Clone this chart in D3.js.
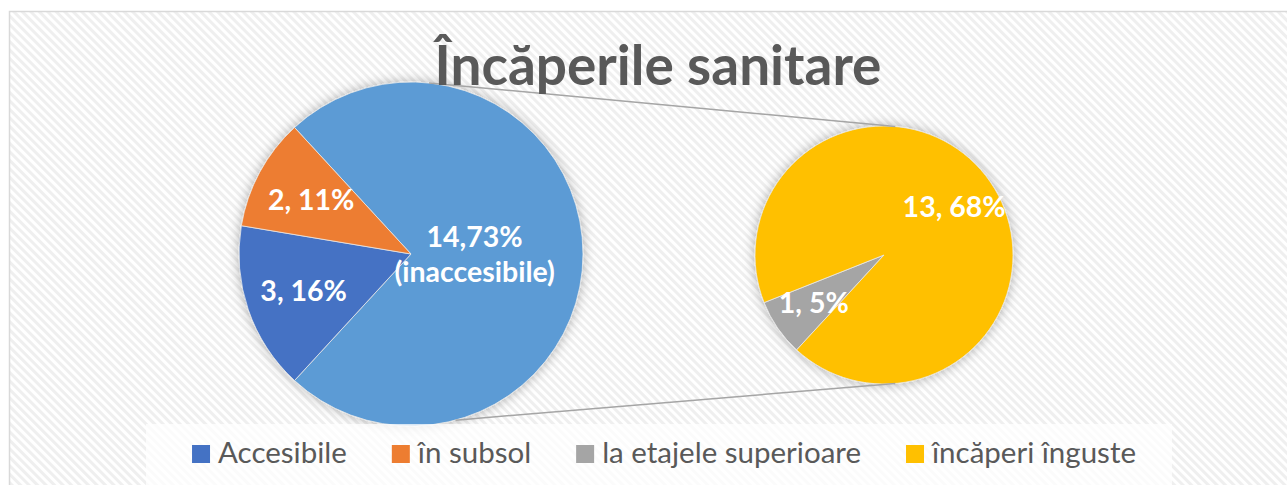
<!DOCTYPE html>
<html>
<head>
<meta charset="utf-8">
<script src="https://cdn.jsdelivr.net/npm/d3@7"></script>
<style>
  html, body { margin: 0; padding: 0; background: #fff; }
  svg { display: block; }
</style>
</head>
<body>
<div id="chart"></div>
<script>
// data
const title = "Încăperile sanitare";
const categories = ["Accesibile", "în subsol", "la etajele superioare", "încăperi înguste"];
const values = [3, 2, 1, 13];
const splitAt = 2;                 // first two stay in the main pie, rest goes to the second pie
const otherName = "inaccesibile";

const W = 1287, H = 485;
const colors = ["#4472c4", "#ed7d31", "#a5a5a5", "#ffc000"];
const otherColor = "#5b9bd5";
const textColor = "#595959";
const font = "Lato, 'Open Sans', sans-serif";

const svg = d3.select("#chart").append("svg")
  .attr("width", W)
  .attr("height", H);

const defs = svg.append("defs");

// diagonal hatch of the chart area
const pat = defs.append("pattern")
  .attr("id", "hatch")
  .attr("patternUnits", "userSpaceOnUse")
  .attr("width", 6).attr("height", 6)
  .attr("patternTransform", "rotate(-45)");
pat.append("rect").attr("width", 6).attr("height", 6).attr("fill", "#ffffff");
pat.append("rect").attr("width", 3).attr("height", 6).attr("fill", "#efefef");

const shadow = defs.append("filter")
  .attr("id", "shadow")
  .attr("x", "-20%").attr("y", "-20%")
  .attr("width", "140%").attr("height", "140%");
shadow.append("feDropShadow")
  .attr("dx", 0).attr("dy", 0)
  .attr("stdDeviation", 6)
  .attr("flood-color", "#000")
  .attr("flood-opacity", 0.3);

svg.append("rect")
  .attr("x", 9.5).attr("y", 11.5)
  .attr("width", W + 20).attr("height", H + 20)
  .attr("fill", "url(#hatch)")
  .attr("stroke", "#d9d9d9")
  .attr("stroke-width", 1.5);

const total = d3.sum(values);
const pct = v => Math.round(v / total * 100);

const mainVals = values.slice(0, splitAt).map((v, i) => ({v: v, i: i}));
const subVals = values.slice(splitAt).map((v, i) => ({v: v, i: i + splitAt}));
const otherSum = d3.sum(subVals, d => d.v);
const otherPct = d3.sum(subVals, d => pct(d.v));

// main pie: the "other" slice is centred on the right side
const main = {cx: 411, cy: 254, r: 172};
const sub = {cx: 884, cy: 255, r: 129};

const otherSpan = otherSum / total * 2 * Math.PI;
const mainStart = Math.PI / 2 - otherSpan / 2;
const mainData = [{v: otherSum, i: -1}].concat(mainVals);
const mainArcs = d3.pie().sort(null).value(d => d.v)
  .startAngle(mainStart).endAngle(mainStart + 2 * Math.PI)(mainData);

const subStart = mainStart + otherSpan;
const subArcs = d3.pie().sort(null).value(d => d.v)
  .startAngle(subStart).endAngle(subStart + 2 * Math.PI)(subVals);

// connector lines
const conn = [[6, 5], [165, 175]];
const pt = (p, deg) => [p.cx + p.r * Math.sin(deg * Math.PI / 180), p.cy - p.r * Math.cos(deg * Math.PI / 180)];
const fill = d => d.data.i < 0 ? otherColor : colors[d.data.i];

function drawPie(p, arcs) {
  const g = svg.append("g")
    .attr("transform", "translate(" + p.cx + "," + p.cy + ")")
    .attr("filter", "url(#shadow)");
  const arc = d3.arc().innerRadius(0).outerRadius(p.r);
  g.selectAll("path")
    .data(arcs).enter()
    .append("path")
    .attr("d", arc)
    .attr("fill", fill)
    .attr("stroke", "#e8e8e8")
    .attr("stroke-width", 0.8);
}
drawPie(main, mainArcs);
drawPie(sub, subArcs);

svg.append("g").selectAll("line")
  .data(conn).enter()
  .append("line")
  .attr("x1", d => pt(main, d[0])[0]).attr("y1", d => pt(main, d[0])[1])
  .attr("x2", d => pt(sub, d[1])[0]).attr("y2", d => pt(sub, d[1])[1])
  .attr("stroke", "#a5a5a5")
  .attr("stroke-width", 1.5);

// data labels
function labels(p, arcs) {
  const g = svg.append("g")
    .attr("transform", "translate(" + p.cx + "," + p.cy + ")");
  arcs.forEach(function(a) {
    const k = a.data.i < 0 ? 0.37 : 0.66;
    const c = d3.arc().innerRadius(p.r * k).outerRadius(p.r * k).centroid(a);
    const t = g.append("text")
      .attr("x", c[0]).attr("y", c[1])
      .attr("text-anchor", "middle")
      .attr("fill", "#fff")
      .style("font-family", font)
      .style("font-weight", "bold")
      .style("font-size", "28.5px");
    if (a.data.i < 0) {
      t.append("tspan").attr("x", c[0]).attr("dy", "-0.25em")
        .text(otherSum + "," + otherPct + "%");
      t.append("tspan").attr("x", c[0]).attr("dy", "1.23em")
        .text("(" + otherName + ")");
    } else {
      t.attr("dy", "0.36em").text(a.data.v + ", " + pct(a.data.v) + "%");
    }
  });
}
labels(main, mainArcs);
labels(sub, subArcs);

// title, sized to the reference width
const tt = svg.append("text")
  .attr("x", 658).attr("y", 85)
  .attr("text-anchor", "middle")
  .attr("fill", textColor)
  .style("font-family", font)
  .style("font-weight", "bold")
  .style("font-size", "100px")
  .text(title);
const tw = tt.node().getComputedTextLength();
tt.style("font-size", (100 * 447 / tw) + "px");

// legend
svg.append("rect")
  .attr("x", 146).attr("y", 424)
  .attr("width", 1026).attr("height", 70)
  .attr("fill", "#fff")
  .attr("fill-opacity", 0.75);

const lg = svg.append("g");
const items = lg.selectAll("g")
  .data(categories).enter()
  .append("g");
items.append("rect")
  .attr("y", 445)
  .attr("width", 18).attr("height", 18)
  .attr("fill", (d, i) => colors[i]);
items.append("text")
  .attr("x", 26).attr("y", 463)
  .attr("fill", textColor)
  .style("font-family", font)
  .style("font-size", "29.5px")
  .text(d => d);

let xpos = 0;
const offs = [];
items.each(function() {
  offs.push(xpos);
  xpos += 26 + d3.select(this).select("text").node().getComputedTextLength() + 45;
});
const legW = xpos - 45;
const legX = 664 - legW / 2;
items.attr("transform", (d, i) => "translate(" + (legX + offs[i]) + ",0)");
</script>
</body>
</html>
